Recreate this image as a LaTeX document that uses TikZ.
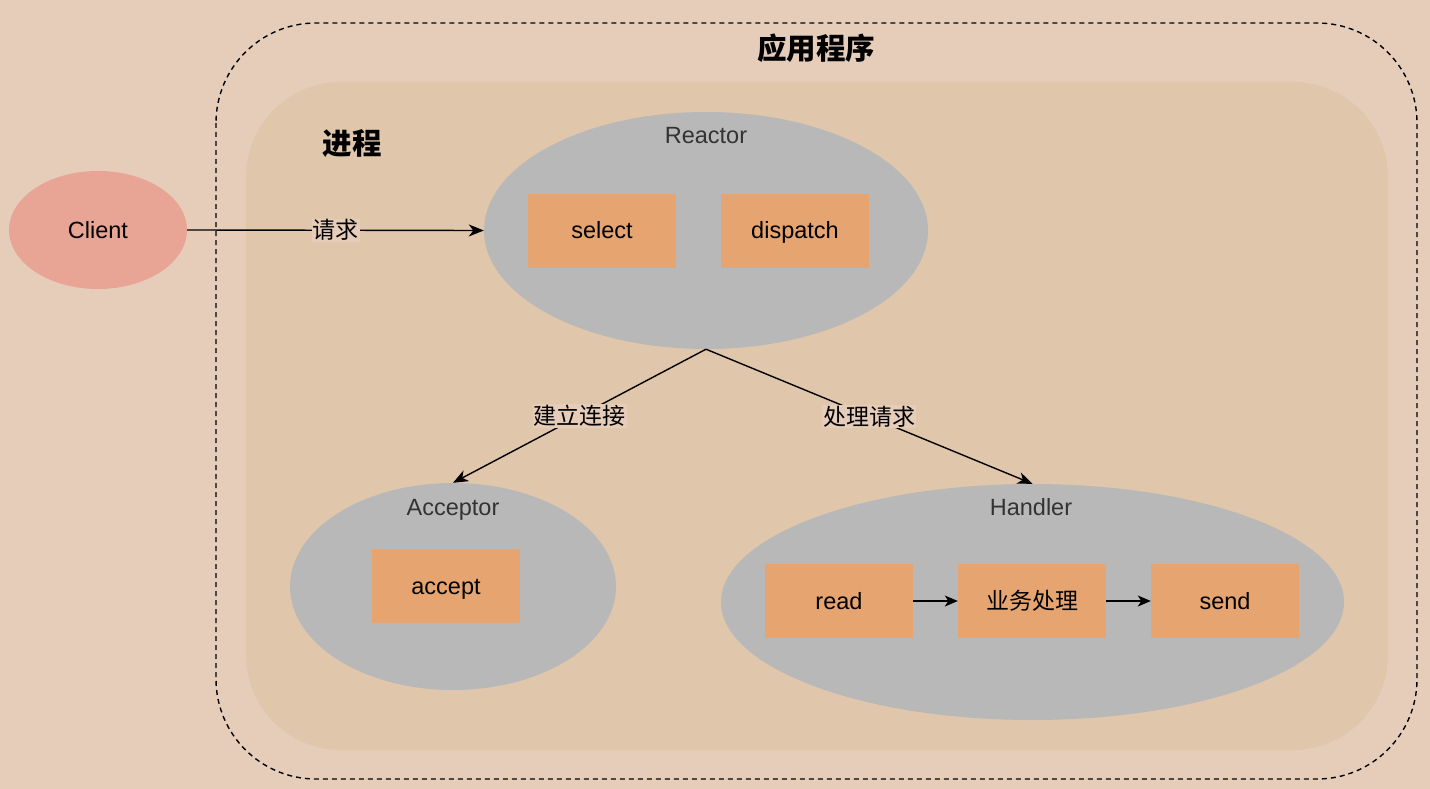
\documentclass[tikz,border=0pt]{standalone}
\usepackage{fontspec}
\setmainfont{Liberation Sans}
\newfontfamily\cjk{Noto Sans CJK SC}
\usetikzlibrary{shapes.geometric,arrows.meta}
\definecolor{bgout}{HTML}{E6CDBA}
\definecolor{bgin}{HTML}{E0C6AA}
\definecolor{ellgray}{HTML}{B8B8B8}
\definecolor{boxor}{HTML}{E5A470}
\definecolor{clientc}{HTML}{E8A595}
\definecolor{labgray}{HTML}{333333}
\tikzset{
  ell/.style={ellipse, fill=ellgray, draw=none, inner sep=0pt},
  opbox/.style={rectangle, fill=boxor, draw=none, minimum width=148pt, minimum height=74pt, inner sep=0pt, text height=16pt, text depth=0pt, font=\fontsize{23.5}{27}\selectfont},
  elllabel/.style={font=\fontsize{23.5}{27}\selectfont, text=labgray, inner sep=0pt, text height=16pt, text depth=0pt},
  conn/.style={line width=1.4pt, -{Stealth[length=15pt,width=12pt,inset=4.5pt]}},
  edgelab/.style={fill=bgout, inner sep=1pt, font=\cjk\fontsize{23}{27}\selectfont},
}
\begin{document}
\begin{tikzpicture}[x=1pt,y=-1pt]
\useasboundingbox (0,0) rectangle (1430,789);
\fill[bgout] (0,0) rectangle (1430,789);
% outer dashed application box
\draw[line width=1.4pt, dash pattern=on 5pt off 4pt, rounded corners=100pt] (216,23) rectangle (1417,779);
% inner process box
\fill[bgin, rounded corners=95pt] (246,82) rectangle (1388,750);
\node[font=\cjk\bfseries\fontsize{29.5}{33}\selectfont, inner sep=0pt] (title) at (816,48) {应用程序};
\node[font=\cjk\bfseries\fontsize{29.5}{33}\selectfont, inner sep=0pt] (proc) at (352,143) {进程};
% client
\node[ellipse, fill=clientc, minimum width=178pt, minimum height=118pt, inner sep=0pt, text height=16pt, text depth=0pt, font=\fontsize{23.5}{27}\selectfont] (client) at (98,230) {Client};
% reactor
\node[ell, minimum width=444pt, minimum height=237pt] (reactor) at (706,230.5) {};
\node[elllabel] (reactorlab) at (706,136) {Reactor};
\node[opbox] (select) at (602,230.5) {select};
\node[opbox] (dispatch) at (795,230.5) {dispatch};
% acceptor
\node[ell, minimum width=326pt, minimum height=207pt] (acceptor) at (453,586.5) {};
\node[elllabel] (acceptorlab) at (453,507) {Acceptor};
\node[opbox] (accept) at (446,586) {accept};
% handler
\node[ell, minimum width=623pt, minimum height=236pt] (handler) at (1032.5,602) {};
\node[elllabel] (handlerlab) at (1031,507) {Handler};
\node[opbox] (read) at (839,601) {read};
\node[opbox, font=\cjk\fontsize{23}{27}\selectfont] (biz) at (1032,601) {业务处理};
\node[opbox] (send) at (1225,601) {send};
% connectors
\draw[conn] (client.east) -- node[edgelab] (reqlab) {请求} (reactor.west);
\draw[conn] (reactor.south) -- node[edgelab] (connlab) {建立连接} (acceptor.north);
\draw[conn] (reactor.south) -- node[edgelab] (handlelab) {处理请求} (handler.north);
\draw[line width=1.4pt, -{Stealth[length=13pt,width=11pt,inset=3.5pt]}] (read.east) -- (biz.west);
\draw[line width=1.4pt, -{Stealth[length=13pt,width=11pt,inset=3.5pt]}] (biz.east) -- (send.west);
\end{tikzpicture}
\end{document}
